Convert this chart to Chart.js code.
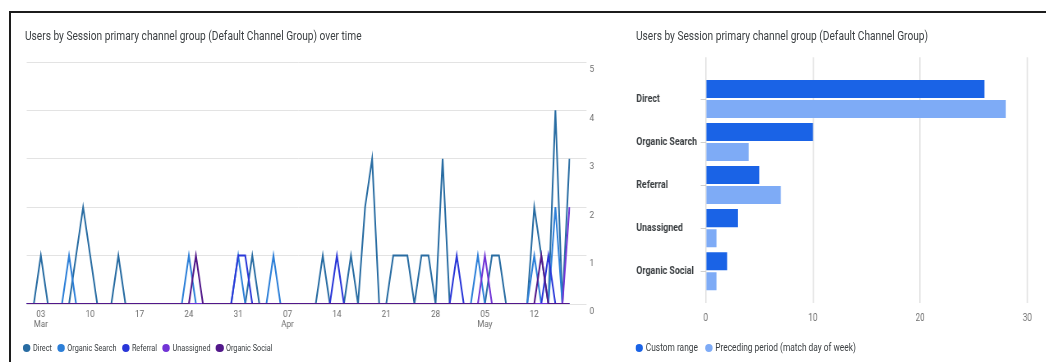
<!DOCTYPE html>
<html>
<head>
<meta charset="utf-8">
<title>Users by Session primary channel group</title>
<script src="https://cdn.jsdelivr.net/npm/chart.js@4.4.1/dist/chart.umd.min.js"></script>
<style>
  html, body { margin: 0; padding: 0; background: #fff; overflow: hidden; }
  body { width: 1046px; height: 362px; position: relative; font-family: Roboto, "Noto Sans", sans-serif; }
  #frameTop  { position: absolute; left: 9px; top: 11px; width: 1037px; height: 2px; background: #1c1c1c; }
  #frameLeft { position: absolute; left: 9px; top: 11px; width: 2px; height: 351px; background: #1c1c1c; }
  #stage { position: absolute; left: 0; top: 0; height: 362px; transform-origin: 0 0; }
  .panel { position: absolute; top: 0; height: 362px; overflow: hidden; }
  .title { position: absolute; top: 28px; white-space: nowrap; color: #3c4043; font-size: 12.4px; line-height: 16px; }
  .legend { position: absolute; top: 341px; height: 14px; display: flex; align-items: center;
            white-space: nowrap; line-height: 14px; color: #3c4043; }
  .legend .dot { display: inline-block; height: 7.5px; border-radius: 50%; }
</style>
</head>
<body>
<div id="stage">
  <div class="title" id="lineTitle">Users by Session primary channel group (Default Channel Group) over time</div>
  <div class="panel" id="linePanel"><canvas id="lineChart"></canvas></div>
  <div class="legend" id="lineLegend"></div>

  <div class="title" id="barTitle">Users by Session primary channel group (Default Channel Group)</div>
  <div class="panel" id="barPanel"><canvas id="barChart"></canvas></div>
  <div class="legend" id="barLegend"></div>
</div>
<div id="frameTop"></div>
<div id="frameLeft"></div>

<script>
// The dashboard strip is laid out wide and squeezed horizontally by S.
const S = 0.82;
const hx = v => v / S;

// ---- Daily users by channel, 1 Mar – 17 May 2024 ----
const firstDay = { y: 2024, m: 2, d: 1 };
const dayCount = 78;

const direct = [
  0,0,1,0,0,0,0,1,2,1,   // Mar 1–10
  0,0,0,1,0,0,0,0,0,0,   // Mar 11–20
  0,0,0,0,0,0,0,0,0,0,   // Mar 21–30
  0,0,1,0,0,0,0,0,0,0,   // Mar 31 – Apr 9
  0,0,1,0,0,0,1,0,2,3,   // Apr 10–19
  0,0,1,1,1,0,1,1,0,3,   // Apr 20–29
  0,0,0,0,0,0,1,1,0,0,   // Apr 30 – May 9
  0,0,2,1,0,4,0,3        // May 10–17
];
const organicSearch = [
  0,0,0,0,0,0,1,0,0,0,
  0,0,0,0,0,0,0,0,0,0,
  0,0,0,1,0,0,0,0,0,0,
  1,0,0,0,0,1,0,0,0,0,
  0,0,0,0,0,0,0,0,0,0,
  0,0,0,0,0,0,0,0,0,0,
  0,0,0,0,1,0,0,0,0,0,
  0,0,1,0,0,2,0,0
];
const referral = [
  0,0,0,0,0,0,0,0,0,0,
  0,0,0,0,0,0,0,0,0,0,
  0,0,0,0,0,0,0,0,0,0,
  1,1,0,0,0,0,0,0,0,0,
  0,0,0,0,1,0,0,0,0,0,
  0,0,0,0,0,0,0,0,0,0,
  0,1,0,0,0,0,0,0,0,0,
  0,0,0,0,1,0,0,0
];
const unassigned = [
  0,0,0,0,0,0,0,0,0,0,
  0,0,0,0,0,0,0,0,0,0,
  0,0,0,0,0,0,0,0,0,0,
  0,0,0,0,0,0,0,0,0,0,
  0,0,0,0,0,0,0,0,0,0,
  0,0,0,0,0,0,0,0,0,0,
  0,0,0,0,0,1,0,0,0,0,
  0,0,0,0,0,0,0,2
];
const organicSocial = [
  0,0,0,0,0,0,0,0,0,0,
  0,0,0,0,0,0,0,0,0,0,
  0,0,0,0,1,0,0,0,0,0,
  0,0,0,0,0,0,0,0,0,0,
  0,0,0,0,0,0,0,0,0,0,
  0,0,0,0,0,0,0,0,0,0,
  0,0,0,0,0,0,0,0,0,0,
  0,0,0,1,0,0,0,0
];

const channelNames  = ['Direct', 'Organic Search', 'Referral', 'Unassigned', 'Organic Social'];
const channelSeries = [direct, organicSearch, referral, unassigned, organicSocial];
const channelColors = ['#286ca2', '#2c7fd8', '#2936d8', '#7134d6', '#52188a'];

// Weekly (Sunday) axis labels
const tickDates  = ['2024-03-03','2024-03-10','2024-03-17','2024-03-24','2024-03-31','2024-04-07',
                    '2024-04-14','2024-04-21','2024-04-28','2024-05-05','2024-05-12'];
const tickLabels = [['03','Mar'], '10', '17', '24', '31', ['07','Apr'], '14', '21', '28', ['05','May'], '12'];

// ---- Channel totals: current vs preceding period ----
const barCategories   = ['Direct', 'Organic Search', 'Referral', 'Unassigned', 'Organic Social'];
const customRange     = [26, 10, 5, 3, 2];
const precedingPeriod = [28, 4, 7, 1, 1];
const barSeriesNames  = ['Custom range', 'Preceding period (match day of week)'];
const barColors       = ['#1a63e6', '#7eabf6'];
const barTicks        = [0, 10, 20, 30];

// ---- helpers ----
const pad2 = n => String(n).padStart(2, '0');
const dates = [];
for (let i = 0; i < dayCount; i++) {
  const d = new Date(firstDay.y, firstDay.m, firstDay.d + i);
  dates.push(d.getFullYear() + '-' + pad2(d.getMonth() + 1) + '-' + pad2(d.getDate()));
}

function place(el, left, width) {
  el.style.left = hx(left) + 'px';
  if (width !== undefined) el.style.width = hx(width) + 'px';
}
function buildLegend(el, names, colors, fontSize, dotGap, itemGap) {
  el.style.fontSize = fontSize + 'px';
  names.forEach((name, i) => {
    const item = document.createElement('span');
    item.style.display = 'inline-flex';
    item.style.alignItems = 'center';
    if (i > 0) item.style.marginLeft = hx(itemGap) + 'px';
    const dot = document.createElement('span');
    dot.className = 'dot';
    dot.style.width = hx(7.5) + 'px';
    dot.style.background = colors[i];
    dot.style.marginRight = hx(dotGap) + 'px';
    const txt = document.createElement('span');
    txt.textContent = name;
    item.appendChild(dot);
    item.appendChild(txt);
    el.appendChild(item);
  });
}

const stage = document.getElementById('stage');
stage.style.width = hx(1046) + 'px';
stage.style.transform = 'scaleX(' + S + ')';

place(document.getElementById('lineTitle'), 25);
place(document.getElementById('barTitle'), 636);
place(document.getElementById('linePanel'), 0, 600);
place(document.getElementById('barPanel'), 600, 440);
const lineLegend = document.getElementById('lineLegend');
const barLegend = document.getElementById('barLegend');
place(lineLegend, 23);
place(barLegend, 635.5);
buildLegend(lineLegend, channelNames, channelColors, 8.9, 2.4, 5.5);
buildLegend(barLegend, barSeriesNames, barColors, 10.2, 2.8, 7);

Chart.defaults.font.family = 'Roboto, "Noto Sans", sans-serif';
Chart.defaults.color = '#6f6f6f';

// ---- Line chart: users over time ----
new Chart(document.getElementById('lineChart'), {
  type: 'line',
  data: {
    labels: dates,
    datasets: channelNames.map((name, i) => ({
      label: name,
      data: channelSeries[i],
      borderColor: channelColors[i],
      backgroundColor: channelColors[i],
      borderWidth: 2,
      pointRadius: 0,
      pointHoverRadius: 0,
      tension: 0,
      fill: false,
      order: channelNames.length - 1 - i
    }))
  },
  options: {
    responsive: true,
    maintainAspectRatio: false,
    animation: false,
    events: [],
    layout: { padding: { left: hx(26.7), right: 0, top: 62, bottom: 28 } },
    plugins: { legend: { display: false }, tooltip: { enabled: false } },
    scales: {
      x: {
        type: 'category',
        offset: false,
        grid: { display: false, drawTicks: false },
        border: { display: false },
        ticks: {
          autoSkip: false, maxRotation: 0, minRotation: 0, padding: 6,
          color: '#6b6b6b', font: { size: 9.8, lineHeight: 1.02 },
          callback: (value, index) => {
            const k = tickDates.indexOf(dates[index]);
            return k >= 0 ? tickLabels[k] : '';
          }
        },
        afterFit: s => { s.height = 30; }
      },
      y: {
        position: 'right',
        min: 0, max: 5,
        grid: { color: '#e3e3e3', lineWidth: 1, drawTicks: true, tickLength: hx(17) },
        border: { display: false },
        ticks: { stepSize: 1, padding: hx(3), labelOffset: 8, color: '#6b6b6b', font: { size: 9.8 } },
        afterFit: s => { s.width = hx(600 - 568.7); }
      }
    }
  }
});

// ---- Bar chart: totals by channel ----
new Chart(document.getElementById('barChart'), {
  type: 'bar',
  data: {
    datasets: [customRange, precedingPeriod].map((vals, k) => ({
      label: barSeriesNames[k],
      data: vals.map((v, i) => ({ x: v, y: i })),
      backgroundColor: barColors[k],
      borderWidth: 0,
      categoryPercentage: 0.93,
      barPercentage: 0.9
    }))
  },
  options: {
    indexAxis: 'y',
    responsive: true,
    maintainAspectRatio: false,
    animation: false,
    events: [],
    layout: { padding: { left: hx(36), right: hx(1040 - 1027), top: 57.3, bottom: 30 } },
    plugins: { legend: { display: false }, tooltip: { enabled: false } },
    scales: {
      x: {
        type: 'linear',
        min: barTicks[0], max: barTicks[barTicks.length - 1],
        afterBuildTicks: s => { s.ticks = barTicks.map(v => ({ value: v })); },
        grid: { color: '#e2e2e2', lineWidth: 1.6, drawTicks: false },
        border: { display: false },
        ticks: { padding: 9, color: '#707070', font: { size: 10 } },
        afterFit: s => { s.height = 362 - 303 - 30; }
      },
      y: {
        type: 'linear',
        reverse: true,
        offset: false,
        bounds: 'data',
        min: -0.97, max: barCategories.length - 0.26,
        afterBuildTicks: s => { s.ticks = barCategories.map((_, i) => ({ value: i })); },
        grid: { offset: false, drawOnChartArea: false, drawTicks: true, tickLength: hx(5), color: '#cfcfcf' },
        border: { display: false },
        ticks: {
          crossAlign: 'far',
          color: '#3c4043',
          font: { size: 10.8, weight: 'bold' },
          callback: v => barCategories[v]
        },
        afterFit: s => { s.width = hx(705.5 - 636); }
      }
    }
  }
});
</script>
</body>
</html>
